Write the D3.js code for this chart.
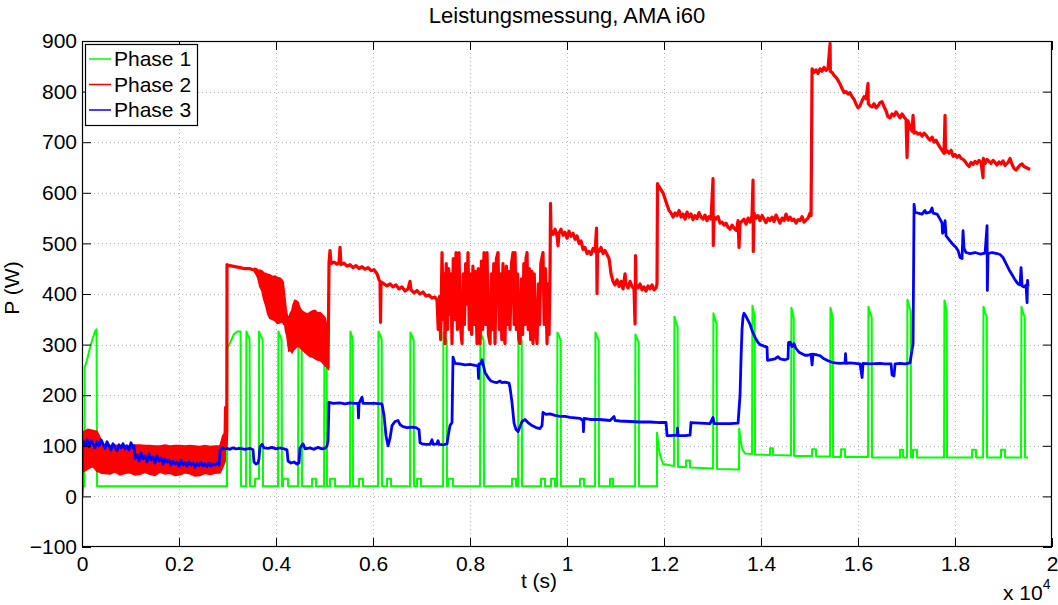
<!DOCTYPE html>
<html>
<head>
<meta charset="utf-8">
<script src="https://cdn.jsdelivr.net/npm/d3@7"></script>
<style>
  body { margin: 0; background: #fff; }
  text { font-family: "Liberation Sans", Arial, Helvetica, sans-serif; }
</style>
</head>
<body>
<div id="chart"></div>
<script>
// ticks (time in seconds, shown in units of 10^4 s)
var xTicks = [0, 2000, 4000, 6000, 8000, 10000, 12000, 14000, 16000, 18000, 20000];
var yTicks = [-100, 0, 100, 200, 300, 400, 500, 600, 700, 800, 900];
var seriesNames = ['Phase 1', 'Phase 2', 'Phase 3'];
var seriesColors = ['#00ff00', '#ff0000', '#0000ff'];

// Phase 1 [t (s), P (W)]
var phase1 = [
  [0,0],[20,20],[50,20],[55,255],[100,268],[160,292],[220,312],[270,326],[300,330],[310,20],
  [2990,20],[2995,292],[3060,305],[3130,320],[3200,326],[3270,326],[3279,20],
  [3382,20],[3390,326],[3420,318],[3455,312],[3464,20],
  [3567,20],[3567,35],[3650,35],[3650,326],[3680,318],[3725,310],[3732,20],
  [4042,20],[4050,326],[4080,318],[4115,310],[4124,20],
  [4145,20],[4145,35],[4248,35],[4248,20],
  [4454,20],[4462,326],[4500,316],[4530,308],[4536,20],
  [4743,20],[4743,35],[4825,35],[4825,20],
  [4990,20],[4998,322],[5030,312],[5045,305],[5052,20],
  [5114,20],[5114,35],[5217,35],[5217,20],
  [5526,20],[5534,326],[5560,318],[5582,310],[5588,20],
  [5712,20],[5712,35],[5794,35],[5794,20],
  [6104,20],[6112,326],[6150,318],[6180,310],[6186,20],
  [6289,20],[6289,35],[6372,35],[6372,20],
  [6763,20],[6771,324],[6810,316],[6840,308],[6846,20],
  [6908,20],[6908,35],[6990,35],[6990,20],
  [7444,20],[7452,324],[7490,316],[7520,308],[7526,20],
  [7547,20],[7547,35],[7650,35],[7650,20],
  [8207,20],[8215,324],[8250,316],[8283,308],[8289,20],
  [8867,20],[8867,35],[8949,35],[8949,20],
  [8990,20],[8998,324],[9035,316],[9067,308],[9073,20],
  [9464,20],[9464,35],[9547,35],[9547,20],
  [9670,20],[9670,35],[9753,35],[9753,20],
  [9794,20],[9802,324],[9840,316],[9870,308],[9876,20],
  [10268,20],[10268,35],[10350,35],[10350,20],
  [10578,20],[10586,324],[10620,316],[10654,308],[10660,20],
  [10887,20],[10887,35],[10949,35],[10949,20],
  [11403,20],[11411,320],[11445,312],[11479,304],[11485,20],
  [11856,20],[11856,126],[11890,95],[11918,82],[11980,64],[12207,60],
  [12215,355],[12245,345],[12280,335],[12289,58],
  [12454,58],[12454,71],[12536,71],[12536,57],
  [13011,55],[13019,362],[13050,352],[13085,340],[13093,54],
  [13547,53],[13550,134],[13580,110],[13620,92],[13671,85],
  [13815,84],[13823,377],[13850,365],[13870,355],[13877,83],
  [14186,82],[14186,95],[14248,95],[14248,82],
  [14619,81],[14627,373],[14655,362],[14675,352],[14681,80],
  [15053,80],[15053,93],[15135,93],[15135,79],
  [15424,79],[15432,373],[15460,362],[15480,352],[15486,78],
  [15650,78],[15650,93],[15733,93],[15733,78],
  [16207,78],[16215,375],[16245,364],[16283,354],[16289,77],
  [16867,77],[16867,92],[16929,92],[16929,77],
  [17011,77],[17019,389],[17050,378],[17088,365],[17094,77],
  [17135,77],[17135,92],[17217,92],[17217,77],
  [17774,77],[17782,387],[17810,376],[17830,365],[17836,77],
  [18352,77],[18352,92],[18434,92],[18434,77],
  [18579,77],[18587,375],[18620,364],[18655,354],[18661,77],
  [18949,77],[18949,92],[19032,92],[19032,77],
  [19362,77],[19370,375],[19400,364],[19438,354],[19444,77],
  [19506,77]
];

// Phase 2 noisy bands [t, low, high]
var phase2Band1 = [
  [0,48,92],[41,50,128],[124,55,132],[227,60,130],[309,50,128],[371,48,115],[412,46,102],
  [577,45,100],[680,49,101],[784,43,99],[887,46,100],[990,47,99],[1093,43,101],[1196,44,101],
  [1299,48,100],[1402,44,100],[1505,42,99],[1608,49,99],[1711,45,101],[1815,46,99],[1918,42,100],
  [2021,43,100],[2124,47,99],[2227,45,100],[2330,41,99],[2433,42,98],[2536,46,100],[2639,44,98],
  [2742,46,99],[2846,47,99],[2907,60,120],[2949,70,125]
];
var phase2Band2 = [
  [3567,443,450],[3600,438,449],[3629,432,446],[3670,415,447],[3712,407,445],[3750,390,441],
  [3794,377,440],[3835,360,438],[3877,352,437],[3930,350,434],[3980,348,435],[4030,342,432],
  [4083,344,431],[4115,346,428],[4145,344,423],[4165,340,405],[4186,338,387],[4205,325,370],
  [4227,318,358],[4250,300,355],[4268,288,352],[4300,290,362],[4330,285,367],[4360,290,380],
  [4392,292,387],[4420,296,386],[4454,298,383],[4475,296,376],[4495,294,371],[4545,290,365],
  [4598,285,362],[4650,281,360],[4701,277,363],[4750,276,366],[4804,273,367],[4855,270,362],
  [4908,269,363],[4960,265,358],[5011,259,352],[5045,256,335],[5073,253,308]
];
// Phase 2 lines [t, P]
var phase2a = [
  [2949,110],[2960,176],[2972,100],[2985,130],[2990,458],[3052,456],[3155,454],[3258,452],
  [3361,450],[3464,450],[3567,447]
];
var phase2b = [
  [5073,253],[5093,462],[5114,486],[5134,460],[5196,463],[5258,459],[5299,462],[5320,492],[5340,458],
  [5402,461],[5464,455],[5526,458],[5588,452],[5650,456],[5712,450],[5774,454],[5835,449],[5897,452],
  [5959,446],[6021,448],[6083,440],[6124,428],[6145,425],[6155,344],[6165,424],[6227,420],[6289,416],
  [6351,420],[6413,414],[6475,418],[6536,410],[6598,414],[6660,406],[6722,410],[6763,425],[6784,408],
  [6846,402],[6908,407],[6969,400],[7031,404],[7093,396],[7155,398],[7217,392],[7279,394],
  [7320,388],[7345,330],[7370,395],[7395,310],[7423,482],[7450,350],[7470,440],[7485,302],[7510,460],
  [7535,330],[7560,450],[7585,360],[7605,440],[7629,302],[7655,470],[7680,350],[7712,482],[7740,330],
  [7774,482],[7800,340],[7836,302],[7860,440],[7885,340],[7910,460],[7935,380],[7959,482],[7985,330],
  [8010,440],[8035,320],[8060,455],[8085,340],[8110,445],[8145,302],[8170,450],[8207,302],[8235,465],
  [8260,330],[8289,482],[8320,340],[8351,482],[8380,320],[8413,302],[8440,440],[8465,330],[8490,460],
  [8516,302],[8545,470],[8578,482],[8605,330],[8630,440],[8655,310],[8680,460],[8700,320],[8722,302],
  [8750,455],[8775,340],[8800,445],[8825,330],[8855,460],[8887,482],[8910,340],[8929,482],[8955,330],
  [8980,440],[9005,310],[9031,302],[9060,430],[9085,320],[9110,460],[9135,340],[9155,470],[9176,482],
  [9200,330],[9225,450],[9250,310],[9275,445],[9299,302],[9325,440],[9350,330],[9382,302],[9410,420],
  [9435,340],[9460,460],[9480,470],[9505,482],[9530,340],[9555,450],[9588,302],[9610,420],[9630,320],
  [9650,440],
  [9660,579],[9670,526],[9712,518],[9753,528],[9794,515],[9815,495],[9835,520],[9877,528],[9918,516],
  [9959,522],[10001,510],[10042,524],[10083,514],[10124,520],[10166,508],[10207,515],[10248,500],
  [10289,505],[10330,488],[10372,492],[10413,480],[10454,484],[10495,478],[10537,490],[10578,484],
  [10609,530],[10619,401],[10630,488],[10660,484],[10702,492],[10743,480],[10784,486],[10825,478],
  [10867,470],[10908,440],[10949,425],[10990,418],[11032,428],[11073,415],[11114,425],[11155,410],
  [11197,440],[11217,420],[11258,412],[11299,425],[11341,415],[11382,410],[11403,341],[11413,476],
  [11423,418],[11465,412],[11506,420],[11547,408],[11588,414],[11630,406],[11671,416],[11712,410],
  [11753,418],[11795,408],[11836,412],[11856,420],[11866,618],[11898,612],[11939,606],[11980,600],
  [12021,588],[12063,576],[12104,565],[12145,560],[12186,552],[12228,560],[12269,555],[12310,565],
  [12351,552],[12393,558],[12434,548],[12475,562],[12516,552],[12557,558],[12599,547],[12640,555],
  [12681,549],[12722,561],[12764,552],[12805,548],[12846,556],[12887,545],[12929,553],[12970,548],
  [13011,628],[13016,496],[13032,552],[13073,548],[13114,553],[13155,540],[13197,542],[13238,536],
  [13279,540],[13320,532],[13362,528],[13403,536],[13444,530],[13485,526],[13506,532],[13527,545],
  [13547,492],[13568,540],[13609,544],[13650,548],[13691,538],[13733,550],[13774,542],[13815,555],
  [13836,625],[13841,484],[13856,560],[13898,550],[13939,555],[13980,545],[14021,555],[14063,548],
  [14104,541],[14145,550],[14186,545],[14228,552],[14269,543],[14310,556],[14351,548],[14393,540],
  [14434,550],[14475,545],[14516,558],[14557,546],[14599,552],[14640,545],[14681,548],[14722,540],
  [14764,547],[14805,545],[14846,553],[14887,542],[14929,546],[14970,550],[15011,560],[15032,555],
  [15053,845],[15094,838],[15135,843],[15176,836],[15217,845],[15259,840],[15300,848],[15341,842],
  [15382,846],[15424,895],[15430,840],[15465,838],[15506,832],[15547,828],[15589,822],[15630,815],
  [15671,806],[15712,798],[15754,800],[15795,795],[15836,798],[15877,790],[15918,785],[15960,775],
  [16001,768],[16042,772],[16084,782],[16125,790],[16166,786],[16207,816],[16212,776],[16248,772],
  [16290,770],[16331,776],[16372,768],[16413,772],[16454,778],[16496,780],[16537,770],[16578,762],
  [16619,750],[16661,748],[16702,756],[16743,752],[16784,760],[16826,754],[16867,748],[16908,756],
  [16949,750],[16991,745],[17011,670],[17032,742],[17073,730],[17115,722],[17135,753],[17156,718],
  [17197,720],[17238,716],[17280,718],[17321,712],[17362,718],[17403,714],[17445,708],[17486,704],
  [17527,710],[17568,700],[17610,704],[17651,696],[17692,690],[17733,684],[17774,678],[17795,753],
  [17805,680],[17836,683],[17877,678],[17919,684],[17960,672],[18001,676],[18043,670],[18084,674],
  [18125,668],[18166,666],[18207,662],[18249,656],[18290,652],[18331,660],[18372,656],[18413,662],
  [18455,658],[18496,664],[18537,660],[18578,630],[18585,668],[18620,658],[18661,666],[18702,662],
  [18743,658],[18785,664],[18826,660],[18867,655],[18908,661],[18950,657],[18991,663],[19032,654],
  [19094,660],[19135,668],[19177,656],[19218,648],[19259,645],[19300,650],[19342,655],[19383,657],
  [19424,652],[19465,650],[19506,648],[19548,646]
];

// Phase 3 [t, P]
var phase3 = [
  [0,0],[5,100],[21,110],[62,100],[103,112],[144,98],[186,110],[227,104],[268,96],[309,108],[351,100],
  [392,112],[433,104],[474,95],[516,108],[557,100],[598,92],[639,104],[680,98],[722,90],[763,102],
  [804,96],[845,104],[887,94],[928,100],[969,92],[1010,106],[1052,96],[1072,100],[1093,75],[1134,82],
  [1175,70],[1217,86],[1258,74],[1299,80],[1340,68],[1382,84],[1423,72],[1464,78],[1505,66],[1546,80],
  [1588,70],[1629,76],[1670,64],[1711,74],[1753,68],[1794,72],[1835,62],[1876,70],[1918,64],[1959,68],
  [2000,60],[2041,72],[2083,62],[2124,67],[2165,60],[2206,68],[2248,62],[2289,66],[2330,58],[2371,66],
  [2412,61],[2454,67],[2495,60],[2536,65],[2577,59],[2619,66],[2660,60],[2701,64],[2742,62],[2784,66],
  [2825,62],[2846,90],[2887,96],[2928,94],[2990,95],[3052,93],[3114,96],[3175,94],[3258,95],[3361,93],
  [3464,95],[3526,92],[3546,68],[3588,64],[3629,66],[3650,75],[3670,98],[3712,103],[3753,96],[3835,95],
  [3918,97],[4000,94],[4083,96],[4165,94],[4227,92],[4248,70],[4309,66],[4371,68],[4433,64],[4474,66],
  [4495,96],[4557,104],[4598,94],[4701,96],[4784,93],[4866,97],[4949,94],[5011,95],[5052,100],[5073,110],
  [5093,186],[5176,184],[5320,185],[5423,183],[5526,185],[5629,184],[5691,184],[5701,155],[5712,184],
  [5774,196],[5794,184],[5939,184],[6041,184],[6186,183],[6227,160],[6268,120],[6310,100],[6351,115],
  [6392,140],[6454,148],[6516,150],[6557,142],[6619,138],[6701,136],[6805,137],[6887,136],[6949,132],
  [6969,106],[7011,104],[7093,103],[7176,103],[7217,112],[7238,103],[7320,104],[7341,110],[7361,103],
  [7464,102],[7526,104],[7547,118],[7588,140],[7629,146],[7650,275],[7691,263],[7794,262],[7897,260],
  [8000,261],[8104,259],[8165,258],[8176,233],[8186,262],[8227,262],[8248,270],[8268,262],[8310,245],
  [8372,235],[8433,228],[8495,226],[8557,225],[8619,228],[8660,225],[8722,226],[8804,224],[8825,215],
  [8867,185],[8908,145],[8949,132],[8990,128],[9031,138],[9073,148],[9134,152],[9196,146],[9279,140],
  [9361,136],[9444,134],[9485,140],[9505,166],[9567,162],[9650,163],[9753,160],[9856,158],[9959,158],
  [10062,156],[10166,155],[10269,154],[10330,150],[10340,128],[10351,154],[10475,152],[10681,152],
  [10887,150],[10970,158],[10990,150],[11093,149],[11299,148],[11506,147],[11712,147],[11918,146],
  [12042,146],[12063,120],[12124,120],[12269,121],[12279,135],[12289,120],[12434,120],[12537,121],
  [12557,146],[12743,145],[12949,144],[13011,156],[13032,144],[13155,144],[13362,144],[13527,145],
  [13568,200],[13589,275],[13609,330],[13630,355],[13650,362],[13691,356],[13733,348],[13774,340],
  [13815,328],[13877,314],[13939,304],[13980,300],[14063,297],[14124,295],[14134,269],[14186,270],
  [14289,272],[14351,276],[14393,272],[14496,270],[14557,272],[14568,304],[14599,305],[14640,296],
  [14681,302],[14722,292],[14784,285],[14846,282],[14908,279],[14970,279],[15032,281],[15053,260],
  [15073,281],[15135,280],[15217,278],[15300,272],[15382,268],[15465,265],[15527,264],[15630,263],
  [15733,264],[15743,282],[15754,263],[15836,264],[15939,263],[16042,262],[16084,235],[16104,263],
  [16248,262],[16454,263],[16557,262],[16681,262],[16702,240],[16743,238],[16764,262],[16867,263],
  [16970,262],[17073,264],[17115,290],[17135,302],[17156,577],[17176,562],[17238,560],[17321,558],
  [17382,565],[17403,560],[17486,562],[17527,570],[17548,560],[17630,558],[17692,548],[17733,540],
  [17743,520],[17774,525],[17795,545],[17816,515],[17857,510],[17898,505],[17939,500],[17980,496],
  [18022,492],[18063,486],[18104,472],[18145,470],[18166,525],[18186,490],[18228,482],[18310,480],
  [18413,482],[18517,479],[18620,481],[18661,535],[18667,407],[18681,480],[18764,482],[18867,480],
  [18929,478],[18991,472],[19053,460],[19115,448],[19177,438],[19238,428],[19300,420],[19342,418],
  [19362,452],[19383,416],[19424,414],[19465,418],[19486,383],[19496,427],[19506,415]
];

(function () {
  var width = 1058, height = 605;
  var pLeft = 82, pRight = 1052, pTop = 41, pBottom = 547;

  var svg = d3.select('#chart').append('svg')
      .attr('width', width)
      .attr('height', height);

  var x = d3.scaleLinear().domain([0, 20000]).range([pLeft, pRight]);
  var y = d3.scaleLinear().domain([-100, 900]).range([pBottom, pTop]);

  svg.append('clipPath').attr('id', 'plotclip')
    .append('rect')
      .attr('x', pLeft).attr('y', pTop)
      .attr('width', pRight - pLeft).attr('height', pBottom - pTop);

  // dotted grid
  var grid = svg.append('g').attr('stroke', '#b4b4b4').attr('stroke-width', 1)
      .attr('stroke-dasharray', '1,3');
  grid.selectAll('.gx').data(xTicks.slice(1, -1)).enter().append('line')
      .attr('x1', function(d){ return Math.round(x(d)) + 0.5; })
      .attr('x2', function(d){ return Math.round(x(d)) + 0.5; })
      .attr('y1', pTop).attr('y2', pBottom);
  grid.selectAll('.gy').data(yTicks.slice(1, -1)).enter().append('line')
      .attr('y1', function(d){ return Math.round(y(d)) + 0.5; })
      .attr('y2', function(d){ return Math.round(y(d)) + 0.5; })
      .attr('x1', pLeft).attr('x2', pRight);

  var plot = svg.append('g').attr('clip-path', 'url(#plotclip)');

  var line = d3.line()
      .x(function(d){ return x(d[0]); })
      .y(function(d){ return y(d[1]); });

  var band = d3.area()
      .x(function(d){ return x(d[0]); })
      .y0(function(d){ return y(d[1]); })
      .y1(function(d){ return y(d[2]); });

  // Phase 1
  plot.append('path').datum(phase1)
      .attr('d', line)
      .attr('fill', 'none')
      .attr('stroke', seriesColors[0])
      .attr('stroke-width', 2)
      .attr('stroke-linejoin', 'round');

  // Phase 2
  [phase2Band1, phase2Band2].forEach(function(b){
    plot.append('path').datum(b)
        .attr('d', band)
        .attr('fill', seriesColors[1])
        .attr('stroke', seriesColors[1])
        .attr('stroke-width', 2);
  });
  [phase2a, phase2b].forEach(function(s){
    plot.append('path').datum(s)
        .attr('d', line)
        .attr('fill', 'none')
        .attr('stroke', seriesColors[1])
        .attr('stroke-width', 3.2)
        .attr('stroke-linejoin', 'round');
  });

  // Phase 3
  plot.append('path').datum(phase3)
      .attr('d', line)
      .attr('fill', 'none')
      .attr('stroke', seriesColors[2])
      .attr('stroke-width', 2.8)
      .attr('stroke-linejoin', 'round');

  // axes, ticks inward on all four sides
  var fmtX = function(d){ return String(+(d / 1e4).toFixed(1)); };
  var fmtY = function(d){ return d < 0 ? '\u2212' + Math.abs(d) : String(d); };

  var gx = svg.append('g').attr('transform', 'translate(0,' + pBottom + ')')
      .call(d3.axisBottom(x).tickValues(xTicks).tickSize(-9).tickPadding(9).tickFormat(fmtX));
  var gy = svg.append('g').attr('transform', 'translate(' + pLeft + ',0)')
      .call(d3.axisLeft(y).tickValues(yTicks).tickSize(-9).tickPadding(5).tickFormat(fmtY));
  var gt = svg.append('g').attr('transform', 'translate(0,' + pTop + ')')
      .call(d3.axisTop(x).tickValues(xTicks).tickSize(-9).tickFormat(''));
  var gr = svg.append('g').attr('transform', 'translate(' + pRight + ',0)')
      .call(d3.axisRight(y).tickValues(yTicks).tickSize(-9).tickFormat(''));

  [gx, gy, gt, gr].forEach(function(g){
    g.select('.domain').remove();
    g.selectAll('line').attr('stroke', '#000');
    g.selectAll('text').attr('fill', '#000').style('font-size', '21px')
     .style('font-family', '"Liberation Sans", Arial, sans-serif');
  });

  svg.append('rect')
      .attr('x', pLeft + 0.5).attr('y', pTop + 0.5)
      .attr('width', pRight - pLeft - 1).attr('height', pBottom - pTop - 1)
      .attr('fill', 'none').attr('stroke', '#000').attr('stroke-width', 1.2);

  // labels
  svg.append('text').attr('x', (pLeft + pRight) / 2).attr('y', 23)
      .attr('text-anchor', 'middle').style('font-size', '22px')
      .text('Leistungsmessung, AMA i60');
  svg.append('text').attr('x', 539).attr('y', 588)
      .attr('text-anchor', 'middle').style('font-size', '21px')
      .text('t (s)');
  svg.append('text')
      .attr('transform', 'translate(19,288) rotate(-90)')
      .attr('text-anchor', 'middle').style('font-size', '21px')
      .text('P (W)');
  var mult = svg.append('text').attr('x', 1003).attr('y', 600).style('font-size', '21px');
  mult.append('tspan').text('x 10');
  mult.append('tspan').attr('dy', -11).style('font-size', '14px').text('4');

  // legend
  var legend = svg.append('g').attr('transform', 'translate(85,44)');
  legend.append('rect')
      .attr('x', 0.5).attr('y', 0.5).attr('width', 112).attr('height', 81)
      .attr('fill', '#fff').attr('stroke', '#000').attr('stroke-width', 1.2);
  var items = legend.selectAll('.item').data(seriesNames).enter().append('g')
      .attr('transform', function(d, i){ return 'translate(0,' + (15 + i * 25.5) + ')'; });
  items.append('line')
      .attr('x1', 4).attr('x2', 26).attr('y1', 0).attr('y2', 0)
      .attr('stroke', function(d, i){ return seriesColors[i]; })
      .attr('stroke-width', 1.5);
  items.append('text')
      .attr('x', 29).attr('y', 7)
      .style('font-size', '21px')
      .text(function(d){ return d; });
})();
</script>
</body>
</html>
